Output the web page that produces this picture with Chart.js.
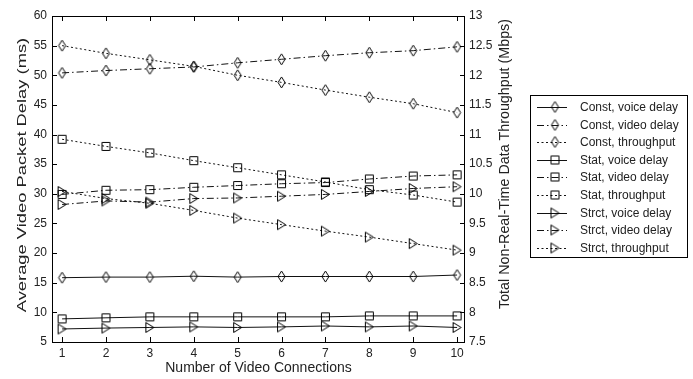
<!DOCTYPE html>
<html>
<head>
<meta charset="utf-8">
<script src="https://cdn.jsdelivr.net/npm/chart.js@4.4.0/dist/chart.umd.min.js"></script>
<style>
  html, body { margin: 0; padding: 0; background: #fff; }
</style>
</head>
<body>
<canvas id="delayChart" width="693" height="379"></canvas>
<script>
// du lieu doc tu hinh
const connections = [1, 2, 3, 4, 5, 6, 7, 8, 9, 10];
const constVoice = [15.85, 15.95, 15.95, 16.1, 15.95, 16.05, 16.05, 16.05, 16.05, 16.3];
const constVideo = [50.4, 50.8, 51.1, 51.4, 52.1, 52.7, 53.3, 53.8, 54.15, 54.8];
const constThru = [12.5, 12.37, 12.26, 12.15, 12.0, 11.88, 11.75, 11.63, 11.52, 11.37];
const statVoice = [8.9, 9.08, 9.24, 9.24, 9.24, 9.24, 9.24, 9.4, 9.4, 9.4];
const statVideo = [29.9, 30.6, 30.7, 31.1, 31.4, 31.7, 31.9, 32.5, 33.0, 33.2];
const statThru = [10.92, 10.8, 10.69, 10.56, 10.44, 10.32, 10.2, 10.07, 9.98, 9.86];
const strctVoice = [7.2, 7.35, 7.45, 7.55, 7.45, 7.55, 7.7, 7.55, 7.7, 7.45];
const strctVideo = [28.2, 28.8, 28.6, 29.2, 29.3, 29.6, 29.9, 30.4, 30.9, 31.2];
const strctThru = [10.04, 9.92, 9.84, 9.72, 9.59, 9.48, 9.37, 9.27, 9.16, 9.05];

const leftTicks = [5, 10, 15, 20, 25, 30, 35, 40, 45, 50, 55, 60];
const rightTicks = [7.5, 8, 8.5, 9, 9.5, 10, 10.5, 11, 11.5, 12, 12.5, 13];

const FONT = "'Liberation Sans', Arial, sans-serif";
const INK = '#111';
const TXT = '#222';

// marker hinh (rong ruot, giong matlab)
function makeMarker(kind) {
  const c = document.createElement('canvas');
  c.width = 11; c.height = 13;
  const g = c.getContext('2d');
  g.strokeStyle = '#000';
  g.lineWidth = 1;
  g.beginPath();
  if (kind === 'diamond') {
    g.moveTo(5.5, 1); g.lineTo(9, 6.5); g.lineTo(5.5, 12); g.lineTo(2, 6.5); g.closePath();
  } else if (kind === 'square') {
    g.rect(1.5, 2.5, 8, 8);
  } else {
    g.moveTo(1.5, 1.5); g.lineTo(9.5, 6.5); g.lineTo(1.5, 11.5); g.closePath();
  }
  g.stroke();
  return c;
}
const diamond = makeMarker('diamond');
const square = makeMarker('square');
const triangle = makeMarker('triangle');

const SOLID = [];
const DASHDOT = [7, 3, 1.5, 3];
const DOTTED = [2, 2.5];

function pts(arr) {
  return connections.map((c, i) => ({ x: c, y: arr[i] }));
}
function series(label, arr, marker, dash, axis) {
  return {
    label: label,
    data: pts(arr),
    yAxisID: axis,
    borderColor: INK,
    borderWidth: 1,
    borderDash: dash,
    pointStyle: marker,
    pointRadius: 5,
    pointHoverRadius: 5,
    fill: false,
    tension: 0
  };
}

const datasets = [
  series('Const, voice delay', constVoice, diamond, SOLID, 'y'),
  series('Const, video delay', constVideo, diamond, DASHDOT, 'y'),
  series('Const, throughput', constThru, diamond, DOTTED, 'y2'),
  series('Stat, voice delay', statVoice, square, SOLID, 'y'),
  series('Stat, video delay', statVideo, square, DASHDOT, 'y'),
  series('Stat, throughput', statThru, square, DOTTED, 'y2'),
  series('Strct, voice delay', strctVoice, triangle, SOLID, 'y'),
  series('Strct, video delay', strctVideo, triangle, DASHDOT, 'y'),
  series('Strct, throughput', strctThru, triangle, DOTTED, 'y2')
];

function verticalText(ctx, text, x, y, size, stretch) {
  ctx.save();
  ctx.fillStyle = TXT;
  ctx.font = size + 'px ' + FONT;
  ctx.textAlign = 'center';
  ctx.textBaseline = 'middle';
  ctx.translate(x, y);
  ctx.rotate(-Math.PI / 2);
  ctx.scale(stretch, 1);
  ctx.fillText(text, 0, 0);
  ctx.restore();
}

// khung + vach chia huong vao trong
const framePlugin = {
  id: 'frame',
  afterDatasetsDraw(chart) {
    const { ctx, chartArea: a, scales } = chart;
    ctx.save();
    ctx.strokeStyle = '#000';
    ctx.lineWidth = 1;
    ctx.setLineDash([]);
    ctx.strokeRect(a.left + 0.5, a.top + 0.5, a.right - a.left - 1, a.bottom - a.top);
    ctx.beginPath();
    connections.forEach(v => {
      const x = Math.round(scales.x.getPixelForValue(v)) + 0.5;
      ctx.moveTo(x, a.bottom); ctx.lineTo(x, a.bottom - 5);
      ctx.moveTo(x, a.top); ctx.lineTo(x, a.top + 5);
    });
    leftTicks.forEach(v => {
      const y = Math.round(scales.y.getPixelForValue(v)) + 0.5;
      ctx.moveTo(a.left, y); ctx.lineTo(a.left + 5, y);
    });
    rightTicks.forEach(v => {
      const y = Math.round(scales.y2.getPixelForValue(v)) + 0.5;
      ctx.moveTo(a.right, y); ctx.lineTo(a.right - 5, y);
    });
    ctx.stroke();
    ctx.restore();

    verticalText(ctx, 'Average Video Packet Delay (ms)', 22.5, 175, 13, 1.41);
    verticalText(ctx, 'Total Non-Real-Time Data Throughput (Mbps)', 505, 164, 14, 1.02);
  }
};

// chu thich ben phai
const legendPlugin = {
  id: 'boxLegend',
  afterDraw(chart) {
    const ctx = chart.ctx;
    const bx = 530, by = 95, bw = 157, bh = 162;
    ctx.save();
    ctx.fillStyle = '#fff';
    ctx.fillRect(bx, by, bw, bh);
    ctx.strokeStyle = '#000';
    ctx.lineWidth = 1;
    ctx.strokeRect(bx + 0.5, by + 0.5, bw, bh);
    ctx.font = '12px ' + FONT;
    ctx.textBaseline = 'middle';
    ctx.textAlign = 'left';
    chart.data.datasets.forEach((ds, i) => {
      const y = Math.round(by + 12 + i * 17.6) + 0.5;
      ctx.strokeStyle = INK;
      ctx.setLineDash(ds.borderDash);
      ctx.beginPath();
      ctx.moveTo(537, y); ctx.lineTo(567, y);
      ctx.stroke();
      ctx.setLineDash([]);
      ctx.drawImage(ds.pointStyle, 555 - ds.pointStyle.width / 2, y - 0.5 - ds.pointStyle.height / 2);
      ctx.fillStyle = TXT;
      ctx.fillText(ds.label, 580, y);
    });
    ctx.restore();
  }
};

const tickFont = { family: FONT, size: 12 };

const ctx = document.getElementById('delayChart').getContext('2d');
const delayChart = new Chart(ctx, {
  type: 'line',
  data: { datasets: datasets },
  options: {
    responsive: false,
    animation: false,
    layout: { padding: { top: 16, right: 162, bottom: 0, left: 0 } },
    plugins: {
      legend: { display: false },
      tooltip: { enabled: false }
    },
    scales: {
      x: {
        type: 'linear',
        min: 0.77,
        max: 10.18,
        afterBuildTicks: s => { s.ticks = connections.map(v => ({ value: v })); },
        afterFit: s => { s.height = 37; },
        grid: { display: false, drawTicks: false },
        border: { display: false },
        ticks: { color: TXT, font: tickFont, padding: 4, maxRotation: 0 },
        title: { display: true, text: 'Number of Video Connections', color: TXT, font: { family: FONT, size: 14 }, padding: { top: 0, bottom: 2 } }
      },
      y: {
        position: 'left',
        min: 5,
        max: 60,
        afterBuildTicks: s => { s.ticks = leftTicks.map(v => ({ value: v })); },
        afterFit: s => { s.width = 52; },
        grid: { display: false, drawTicks: false },
        border: { display: false },
        ticks: { color: TXT, font: tickFont, padding: 5 }
      },
      y2: {
        position: 'right',
        min: 7.5,
        max: 13,
        afterBuildTicks: s => { s.ticks = rightTicks.map(v => ({ value: v })); },
        afterFit: s => { s.width = 66; },
        grid: { display: false, drawTicks: false },
        border: { display: false },
        ticks: { color: TXT, font: tickFont, padding: 4, callback: v => String(v) }
      }
    }
  },
  plugins: [framePlugin, legendPlugin]
});
</script>
</body>
</html>
